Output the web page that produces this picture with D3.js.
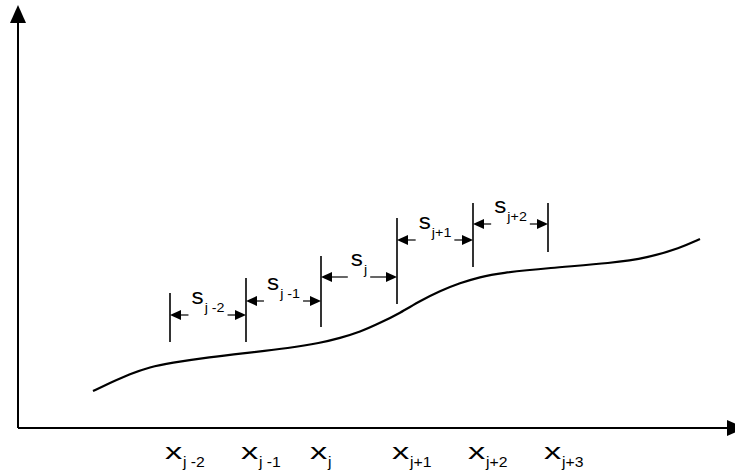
<!DOCTYPE html>
<html><head><meta charset="utf-8">
<script src="https://cdn.jsdelivr.net/npm/d3@7"></script>
<style>html,body{margin:0;padding:0;background:#fff;}svg{display:block;}</style>
</head><body>
<svg id="c" width="735" height="474"></svg>
<script>
// Knot positions (data units along the horizontal axis)
const knotNames = ["j -2", "j -1", "j", "j+1", "j+2", "j+3"];
const knotX = [152, 228, 303, 379, 455, 530];
const knotTop = [135, 150, 172, 210, 225, 225];
const knotBottom = [86, 86, 101, 124, 161, 176];
// Spans between knots
const spanNames = ["j -2", "j -1", "j", "j+1", "j+2"];
const spanArrowY = [113, 127, 151, 188, 204];
// Horizontal axis label anchors
const xLabelX = [147, 223, 292, 374, 450, 526];
// Curve samples
const curveX = [75, 92, 112, 132, 152, 192, 228, 272, 302, 322, 342, 362, 382, 402, 422, 442, 462, 482, 530, 595, 629, 662, 682];
const curveY = [37, 45, 54, 61, 65, 71, 75, 80, 85, 90, 96, 105, 115, 127, 137, 145, 151, 155, 160, 165, 170, 180, 189];

const svg = d3.select("#c");
const x = d3.scaleLinear().domain([0, 717]).range([18, 735]);
const y = d3.scaleLinear().domain([0, 423]).range([428, 5]);
const FONT = "'Liberation Sans', Arial, sans-serif";

// axes
svg.append("line").attr("x1", x(0)).attr("y1", y(0)).attr("x2", x(0)).attr("y2", y(405))
  .attr("stroke", "#000").attr("stroke-width", 2);
svg.append("path").attr("d", `M${x(0)},${y(423)} L${x(0)-8},${y(405)} L${x(0)+8},${y(405)} Z`).attr("fill", "#000");
svg.append("line").attr("x1", x(0)).attr("y1", y(0)).attr("x2", x(709)).attr("y2", y(0))
  .attr("stroke", "#000").attr("stroke-width", 2);
svg.append("path").attr("d", `M${x(727)},${y(0)} L${x(709)},${y(0)-8} L${x(709)},${y(0)+8} Z`).attr("fill", "#000");

// curve
const pts = curveX.map((v, i) => [v, curveY[i]]);
svg.append("path").datum(pts)
  .attr("d", d3.line().x(d => x(d[0])).y(d => y(d[1])).curve(d3.curveBasis))
  .attr("fill", "none").attr("stroke", "#000").attr("stroke-width", 2.2);

// knot vertical lines
svg.selectAll("line.knot").data(knotX).join("line").attr("class", "knot")
  .attr("x1", d => x(d)).attr("x2", d => x(d))
  .attr("y1", (d, i) => y(knotTop[i])).attr("y2", (d, i) => y(knotBottom[i]))
  .attr("stroke", "#000").attr("stroke-width", 1.6);

// span dimension labels and arrows
spanNames.forEach((name, i) => {
  const x0 = x(knotX[i]), x1 = x(knotX[i + 1]);
  const ay = y(spanArrowY[i]);
  const cx = (x0 + x1) / 2;
  const g = svg.append("g");
  const t = g.append("g").attr("transform", `translate(0,${ay - 11.5}) scale(1.1,1)`);
  t.append("text").attr("x", 0).attr("y", 0).attr("font-family", FONT).attr("font-size", 22).text("s");
  t.append("text").attr("x", 12).attr("y", 8).attr("font-family", FONT).attr("font-size", 13)
    .style("white-space", "pre").text(name);
  const bb = t.node().getBBox();
  const w = bb.width * 1.1;
  const left = cx - w / 2;
  t.attr("transform", `translate(${left - bb.x * 1.1},${ay - 11.5}) scale(1.1,1)`);
  const lEnd = left - 3, rStart = left + w + 3;
  const ah = 11, hw = 5;
  g.append("line").attr("x1", x0 + ah).attr("x2", lEnd).attr("y1", ay).attr("y2", ay).attr("stroke", "#000").attr("stroke-width", 1.2);
  g.append("line").attr("x1", rStart).attr("x2", x1 - ah).attr("y1", ay).attr("y2", ay).attr("stroke", "#000").attr("stroke-width", 1.2);
  g.append("path").attr("d", `M${x0},${ay} L${x0 + ah},${ay - hw} L${x0 + ah},${ay + hw} Z`).attr("fill", "#000");
  g.append("path").attr("d", `M${x1},${ay} L${x1 - ah},${ay - hw} L${x1 - ah},${ay + hw} Z`).attr("fill", "#000");
});

// horizontal axis labels
knotNames.forEach((name, i) => {
  const lx = x(xLabelX[i]);
  svg.append("text").attr("transform", `translate(${lx},459) scale(1.5,1)`)
    .attr("font-family", FONT).attr("font-size", 23).text("x");
  svg.append("text").attr("transform", `translate(${lx + 18},467) scale(1.05,1)`)
    .attr("font-family", FONT).attr("font-size", 15).style("white-space", "pre").text(name);
});
</script>
</body></html>
